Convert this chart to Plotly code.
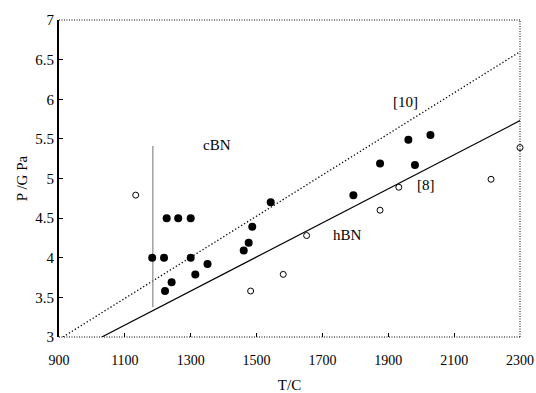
import plotly.graph_objects as go

# Filled circles (cBN formed)
cbn_T = [1183, 1219, 1227, 1262, 1300, 1300, 1222, 1242, 1314, 1351, 1461, 1476, 1487, 1543,
         1794, 1875, 1961, 2028, 1981]
cbn_P = [4.0, 4.0, 4.5, 4.5, 4.5, 4.0, 3.58, 3.69, 3.79, 3.92, 4.09, 4.19, 4.39, 4.70,
         4.79, 5.19, 5.49, 5.55, 5.17]

# Open circles (hBN)
hbn_T = [1133, 1482, 1581, 1652, 1875, 1932, 2212, 2300]
hbn_P = [4.79, 3.58, 3.79, 4.28, 4.60, 4.89, 4.99, 5.39]

# Boundary lines
ref10_T = [912, 2300]
ref10_P = [3.0, 6.6]
ref8_T = [1030, 2300]
ref8_P = [3.0, 5.73]

# Vertical gray line
vline_T = [1185, 1185]
vline_P = [3.38, 5.41]

x_ticks = [900, 1100, 1300, 1500, 1700, 1900, 2100, 2300]
y_ticks = [3, 3.5, 4, 4.5, 5, 5.5, 6, 6.5, 7]

labels = [("cBN", 1379, 5.42), ("[10]", 1951, 5.96), ("[8]", 2016, 4.92), ("hBN", 1775, 4.29)]

font = "Liberation Serif"

fig = go.Figure()
fig.add_trace(go.Scatter(x=ref10_T, y=ref10_P, mode="lines",
                         line=dict(color="black", width=1.3, dash="1.3px,2.2px")))
fig.add_trace(go.Scatter(x=ref8_T, y=ref8_P, mode="lines",
                         line=dict(color="black", width=1.2)))
fig.add_trace(go.Scatter(x=vline_T, y=vline_P, mode="lines",
                         line=dict(color="#888888", width=1.2)))
fig.add_trace(go.Scatter(x=cbn_T, y=cbn_P, mode="markers", cliponaxis=False,
                         marker=dict(color="black", size=8, line=dict(width=0))))
fig.add_trace(go.Scatter(x=hbn_T, y=hbn_P, mode="markers", cliponaxis=False,
                         marker=dict(color="white", size=6, line=dict(color="black", width=1))))

for txt, x, y in labels:
    fig.add_annotation(x=x, y=y, text=txt, showarrow=False,
                       font=dict(family=font, size=15, color="black"))

# Dotted frame: top, right, bottom
for x0, y0, x1, y1 in [(0, 1, 1, 1), (1, 0, 1, 1), (0, 0, 1, 0)]:
    fig.add_shape(type="line", xref="paper", yref="paper", x0=x0, y0=y0, x1=x1, y1=y1,
                  line=dict(color="black", width=1, dash="1px,1.5px"))

fig.update_layout(
    width=536, height=393,
    margin=dict(l=59, r=16, t=20, b=56, autoexpand=False),
    plot_bgcolor="white", paper_bgcolor="white",
    showlegend=False,
    font=dict(family=font, size=15, color="black"),
    xaxis=dict(range=[900, 2300], tickvals=x_ticks, ticktext=[str(v) for v in x_ticks],
               ticks="inside", ticklen=4, tickcolor="black", showgrid=False, zeroline=False,
               showline=False, automargin=False, ticklabeloverflow="allow",
               tickfont=dict(size=14),
               title=dict(text="T/C", standoff=13, font=dict(size=15)),
               ticklabelstandoff=13),
    yaxis=dict(range=[3, 7], tickvals=y_ticks, ticktext=[("%g" % v) for v in y_ticks],
               ticks="inside", ticklen=4, tickcolor="black", showgrid=False, zeroline=False,
               showline=True, linecolor="black", linewidth=2, automargin=False,
               ticklabeloverflow="allow",
               title=dict(text="P /G Pa", standoff=4, font=dict(size=15)),
               ticklabelstandoff=0),
)

fig.write_html("out.html", config={"displayModeBar": False},
               post_script="document.body.style.margin='0';document.body.style.overflow='hidden';")
